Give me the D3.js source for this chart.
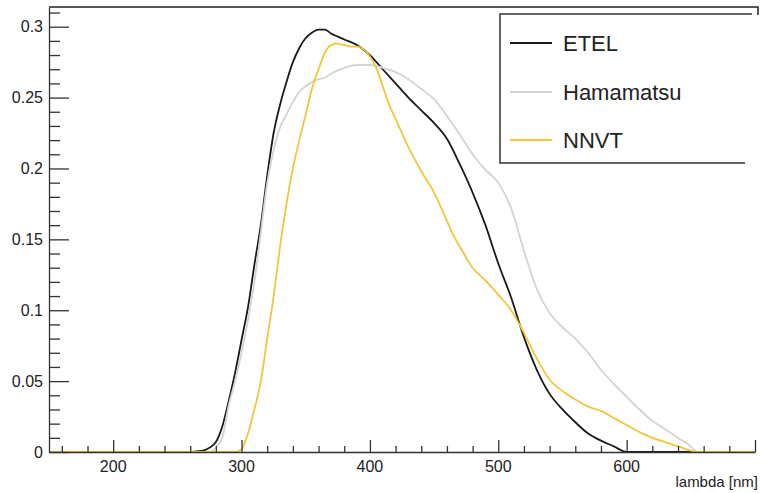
<!DOCTYPE html>
<html>
<head>
<meta charset="utf-8">
<script src="https://cdn.jsdelivr.net/npm/d3@7"></script>
<style>
  body { margin: 0; background: #fff; }
  text { font-family: "Liberation Sans", Arial, sans-serif; fill: #222; }
</style>
</head>
<body>
<div id="qe_viz"></div>
<script>

// wavelength (nm) and quantum efficiency
var etelX = [150, 260, 265, 270, 275, 280, 285, 290, 295, 300, 305, 310, 315, 320, 325, 330, 335, 340, 345, 350,
  355, 360, 365, 370, 375, 380, 390, 400, 410, 420, 430, 440, 450, 460, 470, 480, 490, 500, 510, 520,
  530, 540, 550, 560, 570, 580, 590, 600, 700];
var etelY = [0, 0, 0.0005, 0.001, 0.003, 0.007, 0.018, 0.036, 0.056, 0.079, 0.102, 0.132, 0.16, 0.195, 0.225, 0.245, 0.261, 0.275, 0.285, 0.292,
  0.296, 0.298, 0.298, 0.295, 0.293, 0.291, 0.287, 0.28, 0.27, 0.26, 0.25, 0.241, 0.232, 0.221, 0.203, 0.183, 0.16, 0.133, 0.109, 0.081,
  0.058, 0.041, 0.03, 0.021, 0.013, 0.008, 0.004, 0, 0];

var hamaX = [150, 275, 280, 285, 290, 295, 300, 305, 310, 315, 320, 325, 330, 335, 340, 345, 350, 355, 360, 365,
  370, 380, 390, 400, 410, 420, 430, 440, 450, 460, 470, 480, 490, 500, 510, 520, 530, 540, 550, 560,
  570, 580, 590, 600, 610, 620, 630, 640, 650, 655, 700];
var hamaY = [0, 0, 0.003, 0.01, 0.033, 0.05, 0.07, 0.093, 0.12, 0.155, 0.19, 0.213, 0.229, 0.238, 0.247, 0.254, 0.258, 0.261, 0.263, 0.264,
  0.267, 0.271, 0.273, 0.273, 0.271, 0.268, 0.263, 0.256, 0.249, 0.237, 0.224, 0.21, 0.199, 0.19, 0.172, 0.142, 0.115, 0.098, 0.088, 0.08,
  0.07, 0.058, 0.048, 0.039, 0.03, 0.022, 0.016, 0.01, 0.004, 0, 0];

var nnvtX = [150, 295, 300, 305, 310, 315, 320, 325, 330, 335, 340, 345, 350, 355, 360, 365, 370, 375, 380, 385,
  390, 395, 400, 405, 410, 415, 420, 425, 430, 440, 450, 460, 465, 470, 480, 490, 500, 510, 520, 530,
  540, 550, 560, 570, 580, 590, 600, 610, 620, 630, 640, 650, 655, 700];
var nnvtY = [0, 0, 0.002, 0.013, 0.03, 0.05, 0.08, 0.11, 0.145, 0.175, 0.2, 0.22, 0.238, 0.257, 0.27, 0.282, 0.287, 0.288, 0.287, 0.286,
  0.286, 0.284, 0.279, 0.271, 0.258, 0.245, 0.235, 0.225, 0.215, 0.198, 0.183, 0.163, 0.153, 0.145, 0.13, 0.121, 0.111, 0.1, 0.084, 0.066,
  0.051, 0.043, 0.037, 0.032, 0.029, 0.024, 0.019, 0.014, 0.01, 0.007, 0.004, 0.001, 0, 0];

var seriesNames = ["ETEL", "Hamamatsu", "NNVT"];
var xTicks = [200, 300, 400, 500, 600];
var yTicks = [0, 0.05, 0.1, 0.15, 0.2, 0.25, 0.3];

var colors = ["#1a1a1a", "#d3d3d3", "#f2c53d"];

var W = 760, H = 493;

var svg = d3.select("#qe_viz")
  .append("svg")
    .attr("width", W)
    .attr("height", H);

// scales, frame at x 49..755, y 7..452
var x = d3.scaleLinear().domain([150, 700]).range([49, 755]);
var y = d3.scaleLinear().domain([0, 0.3139]).range([452, 7]);

// top frame line, right side is cut off in the picture
svg.append("path")
  .attr("d", "M49,7H758V15")
  .attr("fill", "none")
  .attr("stroke", "#222")
  .attr("stroke-width", 1.5);

// curves
var line = d3.line()
  .x(function(d) { return x(d[0]); })
  .y(function(d) { return y(d[1]); })
  .curve(d3.curveMonotoneX);

var allX = [etelX, hamaX, nnvtX];
var allY = [etelY, hamaY, nnvtY];

for (var i = 0; i < 3; i++) {
  svg.append("path")
    .datum(d3.zip(allX[i], allY[i]))
    .attr("d", line)
    .attr("fill", "none")
    .attr("stroke", colors[i])
    .attr("stroke-width", 1.8)
    .attr("stroke-linejoin", "round");
}

// X axis, ticks pointing inward
var xAxis = svg.append("g")
  .attr("transform", "translate(0," + y(0) + ")")
  .call(d3.axisBottom(x).tickValues(d3.range(160, 701, 20)).tickSize(-6).tickSizeOuter(0).tickFormat(""));

xAxis.selectAll(".tick line")
  .attr("y2", function(d) { return d % 100 == 0 ? -12 : -6; });

xAxis.selectAll("line, path")
  .attr("stroke", "#333")
  .attr("stroke-width", 1.3);

svg.selectAll(".xlab")
  .data(xTicks)
  .enter()
  .append("text")
    .attr("class", "xlab")
    .attr("x", function(d) { return x(d); })
    .attr("y", 472)
    .attr("text-anchor", "middle")
    .style("font-size", "16px")
    .text(function(d) { return d; });

svg.append("text")
  .attr("x", 758)
  .attr("y", 487)
  .attr("text-anchor", "end")
  .style("font-size", "15px")
  .text("lambda [nm]");

// Y axis, ticks pointing inward
var yAxis = svg.append("g")
  .attr("transform", "translate(" + x(150) + ",0)")
  .call(d3.axisLeft(y).tickValues(d3.range(0, 0.3139, 0.01)).tickSize(-11).tickSizeOuter(0).tickFormat(""));

yAxis.selectAll(".tick line")
  .attr("x2", function(d, i) { return i % 5 == 0 ? 20 : 11; });

yAxis.selectAll("line, path")
  .attr("stroke", "#333")
  .attr("stroke-width", 1.3);

svg.selectAll(".ylab")
  .data(yTicks)
  .enter()
  .append("text")
    .attr("class", "ylab")
    .attr("x", 43)
    .attr("y", function(d) { return y(d); })
    .attr("dy", "0.36em")
    .attr("text-anchor", "end")
    .style("font-size", "16px")
    .text(function(d) { return d; });

// legend box (right edge cut off)
svg.append("path")
  .attr("d", "M752,14H500V163H745")
  .attr("fill", "none")
  .attr("stroke", "#333")
  .attr("stroke-width", 1.5);

var rowY = [43, 92, 140];

for (var j = 0; j < 3; j++) {
  svg.append("line")
    .attr("x1", 510).attr("x2", 552)
    .attr("y1", rowY[j]).attr("y2", rowY[j])
    .attr("stroke", colors[j])
    .attr("stroke-width", 2);
  svg.append("text")
    .attr("x", 563)
    .attr("y", rowY[j])
    .attr("dy", "0.36em")
    .style("font-size", "22px")
    .text(seriesNames[j]);
}

</script>
</body>
</html>
